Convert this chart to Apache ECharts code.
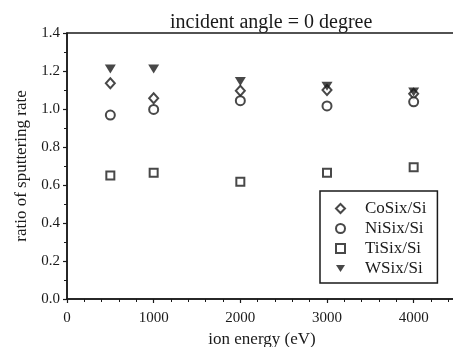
<!DOCTYPE html>
<html>
<head>
<meta charset="utf-8">
<script src="https://cdn.jsdelivr.net/npm/echarts@6/dist/echarts.min.js"></script>
<style>
  html, body { margin: 0; padding: 0; background: #fff; }
  #chart { width: 453px; height: 347px; }
</style>
</head>
<body>
<div id="chart"></div>
<script>
// ion energy (eV) of the measured points
const energies = [500, 1000, 2000, 3000, 4000]
// ratio of sputtering rate
const coSix = [1.135, 1.057, 1.096, 1.100, 1.080]
const niSix = [0.968, 0.998, 1.044, 1.016, 1.038]
const tiSix = [0.650, 0.665, 0.617, 0.665, 0.693]
const wSix = [1.210, 1.210, 1.145, 1.120, 1.090]

const seriesNames = ['CoSix/Si', 'NiSix/Si', 'TiSix/Si', 'WSix/Si']

const ink = '#1a1a1a'
const serif = 'Liberation Serif'
// downward pointing triangle
const downTriangle = 'path://M0,0 L10,0 L5,8 Z'

function pairs(values) {
  return energies.map((e, i) => [e, values[i]])
}

const myChart = echarts.init(document.getElementById('chart'))

const axisCommon = {
  axisLine: { show: true, lineStyle: { color: ink, width: 1.5 } },
  axisTick: { show: true, length: 4, lineStyle: { color: ink, width: 1.2 } },
  minorTick: { show: true, length: 3, lineStyle: { color: ink, width: 1 } },
  splitLine: { show: false },
  axisLabel: { color: ink, fontFamily: serif, fontSize: 15 },
  nameTextStyle: { color: ink, fontFamily: serif, fontSize: 17 }
}

const option = {
  backgroundColor: '#fff',
  animation: false,
  title: {
    text: 'incident angle = 0 degree',
    left: 165,
    top: 8,
    textStyle: { color: ink, fontFamily: serif, fontSize: 20, fontWeight: 'normal' }
  },
  legend: {
    orient: 'vertical',
    left: 320,
    top: 191,
    data: seriesNames,
    itemWidth: 9,
    itemHeight: 9,
    itemGap: 3,
    padding: [9, 11, 6, 15],
    borderColor: ink,
    borderWidth: 1.5,
    textStyle: { color: ink, fontFamily: serif, fontSize: 17, padding: [0, 0, 0, 15] }
  },
  grid: {
    left: 67,
    right: -4,
    top: 33,
    bottom: 48,
    outerBoundsMode: 'none',
    show: true,
    borderColor: ink,
    borderWidth: 1.5
  },
  xAxis: Object.assign({}, axisCommon, {
    type: 'value',
    min: 0,
    max: 4500,
    interval: 1000,
    minorTick: Object.assign({}, axisCommon.minorTick, { splitNumber: 5 }),
    name: 'ion energy (eV)',
    nameLocation: 'middle',
    nameGap: 32,
    axisLabel: Object.assign({}, axisCommon.axisLabel, {
      margin: 12,
      showMaxLabel: false,
      formatter: v => String(v)
    })
  }),
  yAxis: Object.assign({}, axisCommon, {
    type: 'value',
    min: 0,
    max: 1.4,
    interval: 0.2,
    minorTick: Object.assign({}, axisCommon.minorTick, { splitNumber: 2 }),
    name: 'ratio of sputtering rate',
    nameLocation: 'middle',
    nameGap: 33,
    axisLabel: Object.assign({}, axisCommon.axisLabel, {
      margin: 7,
      formatter: v => v.toFixed(1)
    })
  }),
  series: [
    {
      name: seriesNames[0],
      type: 'scatter',
      symbol: 'emptyDiamond',
      symbolSize: [9, 10],
      itemStyle: { color: ink, borderWidth: 1.6 },
      data: pairs(coSix)
    },
    {
      name: seriesNames[1],
      type: 'scatter',
      symbol: 'emptyCircle',
      symbolSize: 9,
      itemStyle: { color: ink, borderWidth: 1.6 },
      data: pairs(niSix)
    },
    {
      name: seriesNames[2],
      type: 'scatter',
      symbol: 'emptyRect',
      symbolSize: 8,
      itemStyle: { color: ink, borderWidth: 1.6 },
      data: pairs(tiSix)
    },
    {
      name: seriesNames[3],
      type: 'scatter',
      symbol: downTriangle,
      symbolSize: [11, 9],
      itemStyle: { color: ink },
      data: pairs(wSix)
    }
  ]
}

myChart.setOption(option)
</script>
</body>
</html>
